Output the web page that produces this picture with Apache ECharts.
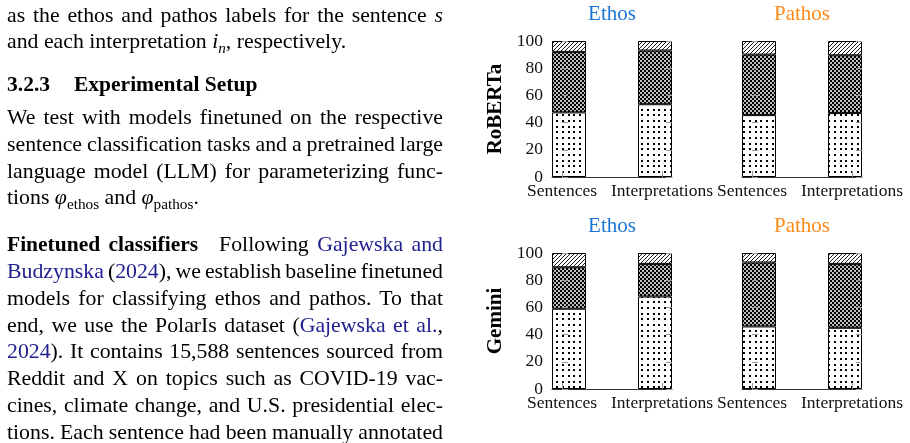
<!DOCTYPE html>
<html>
<head>
<meta charset="utf-8">
<script src="https://cdn.jsdelivr.net/npm/echarts@6/dist/echarts.min.js"></script>
<style>
  html, body { margin: 0; padding: 0; background: #fff; }
  #chart { position: absolute; left: 0; top: 0; width: 910px; height: 443px; }
  #text { position: absolute; left: 0; top: 0; width: 460px; height: 443px; overflow: hidden;
          font-family: "Liberation Serif", serif; font-size: 21.8px; color: #000; }
  #text b { font-size: 21.5px; }
  .ln { position: absolute; left: 7px; white-space: nowrap; line-height: 27px; }
  .cite { color: #20208f; }
  sub { font-size: 0.7em; vertical-align: -0.3em; line-height: 0; }
  i sub { font-style: italic; }
</style>
</head>
<body>
<div id="chart"></div>
<div id="text">
  <div class="ln j" data-base="22.7">as the ethos and pathos labels for the sentence <i>s</i></div>
  <div class="ln" data-base="49.3">and each interpretation <i>i<sub>n</sub></i>, respectively.</div>
  <div class="ln" data-base="91.7"><b>3.2.3</b><b style="position:absolute;left:67px">Experimental Setup</b></div>
  <div class="ln j" data-base="125">We test with models finetuned on the respective</div>
  <div class="ln j" data-base="151.8">sentence classification tasks and a pretrained large</div>
  <div class="ln j" data-base="178.6">language model (LLM) for parameterizing func-</div>
  <div class="ln" data-base="205.4">tions <i>φ</i><sub>ethos</sub> and <i>φ</i><sub>pathos</sub>.</div>
  <div class="ln j" data-base="252.3"><b>Finetuned classifiers</b><span style="display:inline-block;width:21px"></span>Following <span class="cite">Gajewska and</span></div>
  <div class="ln j" data-base="279.1"><span class="cite">Budzynska</span> (<span class="cite">2024</span>), we establish baseline finetuned</div>
  <div class="ln j" data-base="305.9">models for classifying ethos and pathos. To that</div>
  <div class="ln j" data-base="332.7">end, we use the PolarIs dataset (<span class="cite">Gajewska et al.</span>,</div>
  <div class="ln j" data-base="359.5"><span class="cite">2024</span>). It contains 15,588 sentences sourced from</div>
  <div class="ln j" data-base="386.3">Reddit and X on topics such as COVID-19 vac-</div>
  <div class="ln j" data-base="413.1">cines, climate change, and U.S. presidential elec-</div>
  <div class="ln j" data-base="439.9">tions. Each sentence had been manually annotated</div>
</div>
<script>
// categories on the x axis of every panel
const categories = ['Sentences', 'Interpretations'];
const models = ['RoBERTa', 'Gemini'];
const tasks = ['Ethos', 'Pathos'];
const layers = ['dots', 'crosshatch', 'lines'];

// percentages, bottom (dotted) -> middle (crosshatch) -> top (hatched)
const robertaEthosDots = [47.5, 53.5];
const robertaEthosCross = [44.5, 39.5];
const robertaEthosLines = [8, 7];

const robertaPathosDots = [45.5, 47];
const robertaPathosCross = [44.5, 42.5];
const robertaPathosLines = [10, 10.5];

const geminiEthosDots = [59, 68];
const geminiEthosCross = [30.5, 24];
const geminiEthosLines = [10.5, 8];

const geminiPathosDots = [46, 45];
const geminiPathosCross = [47, 47];
const geminiPathosLines = [7, 8];

const panels = [
  [robertaEthosDots, robertaEthosCross, robertaEthosLines],
  [robertaPathosDots, robertaPathosCross, robertaPathosLines],
  [geminiEthosDots, geminiEthosCross, geminiEthosLines],
  [geminiPathosDots, geminiPathosCross, geminiPathosLines]
];

const serif = 'Liberation Serif';
const taskColor = { Ethos: '#1c76d6', Pathos: '#ff8a17' };

function makeTile(size, draw) {
  const c = document.createElement('canvas');
  c.width = size;
  c.height = size;
  draw(c.getContext('2d'), size);
  return { image: c, repeat: 'repeat' };
}

const patterns = [
  makeTile(17, (g, s) => {
    g.fillStyle = '#fff';
    g.fillRect(0, 0, s, s);
    g.fillStyle = '#000';
    [1, 7, 12].forEach((x) => {
      [1, 7, 12].forEach((y) => g.fillRect(x, y, 2, 2));
    });
  }),
  makeTile(4, (g, s) => {
    g.fillStyle = '#000';
    g.fillRect(0, 0, s, s);
    g.fillStyle = '#fff';
    [[1, 1], [3, 3]].forEach(([x, y]) => {
      g.beginPath();
      g.arc(x, y, 1, 0, Math.PI * 2);
      g.fill();
    });
  }),
  makeTile(4, (g, s) => {
    g.fillStyle = '#fff';
    g.fillRect(0, 0, s, s);
    g.strokeStyle = '#000';
    g.lineWidth = 0.9;
    g.beginPath();
    g.moveTo(-1, s + 1); g.lineTo(s + 1, -1);
    g.moveTo(-1, 1); g.lineTo(1, -1);
    g.moveTo(s - 1, s + 1); g.lineTo(s + 1, s - 1);
    g.stroke();
  })
];

// bars sit a little inward of their category tick, as in the source figure
const barShift = 0.07;
const barX = (i) => i + (i === 0 ? barShift : -barShift);

const grid = [], xAxis = [], yAxis = [], series = [], title = [];

panels.forEach((panel, k) => {
  const row = Math.floor(k / 2);
  const col = k % 2;
  const left = 552 + col * 190;
  const top = 41 + row * 212;
  grid.push({ left: left, top: top, width: 120, height: 136 });

  title.push({
    text: tasks[col],
    left: left + 60,
    top: top - 37,
    textAlign: 'center',
    padding: 0,
    textStyle: { fontFamily: serif, fontWeight: 'normal', fontSize: 21, color: taskColor[tasks[col]] }
  });

  xAxis.push({
    type: 'value',
    gridIndex: k,
    min: -0.1,
    max: 1.1,
    z: 5,
    splitLine: { show: false },
    axisLine: { show: true, lineStyle: { color: '#333', width: 1 } },
    axisTick: { show: true, inside: true, length: 6, customValues: [0, 1], lineStyle: { color: '#999' } },
    axisLabel: {
      customValues: [0, 1],
      formatter: (v) => categories[Math.round(v)],
      margin: 5,
      fontFamily: serif,
      fontSize: 17.5,
      color: '#111'
    }
  });

  ['left', 'right'].forEach((side) => {
    const labelled = side === 'left' && col === 0;
    yAxis.push({
      type: 'value',
      gridIndex: k,
      position: side,
      min: 0,
      max: 100,
      interval: 20,
      z: 5,
      axisLine: { show: false },
      splitLine: { show: false },
      axisTick: { show: true, inside: true, length: 6, lineStyle: { color: '#999' } },
      axisLabel: { show: labelled, margin: 9, fontFamily: serif, fontSize: 17.5, color: '#111' },
      name: labelled ? models[row] : '',
      nameLocation: 'middle',
      nameGap: 46,
      nameTextStyle: { fontFamily: serif, fontWeight: 'bold', fontSize: 21, color: '#000' }
    });
  });

  panel.forEach((values, L) => {
    series.push({
      type: 'bar',
      name: layers[L],
      xAxisIndex: k,
      yAxisIndex: k * 2,
      stack: 'panel' + k,
      barWidth: 34,
      silent: true,
      // value first so that the stack is built on the y dimension
      encode: { x: 1, y: 0 },
      data: values.map((v, i) => [v, barX(i)]),
      itemStyle: { color: patterns[L], borderColor: '#000', borderWidth: 1 }
    });
  });
});

const chart = echarts.init(document.getElementById('chart'));
chart.setOption({
  animation: false,
  backgroundColor: '#fff',
  title: title,
  grid: grid,
  xAxis: xAxis,
  yAxis: yAxis,
  series: series
});

// place each text line on its baseline and justify it to the column width
const colWidth = 436;
document.querySelectorAll('#text .ln').forEach((el) => {
  el.style.top = (parseFloat(el.dataset.base) - 21.1) + 'px';
  if (!el.classList.contains('j')) return;
  el.style.wordSpacing = '0px';
  const w = el.getBoundingClientRect().width;
  const gaps = (el.textContent.match(/ /g) || []).length;
  if (gaps) el.style.wordSpacing = ((colWidth - w) / gaps) + 'px';
});
</script>
</body>
</html>
